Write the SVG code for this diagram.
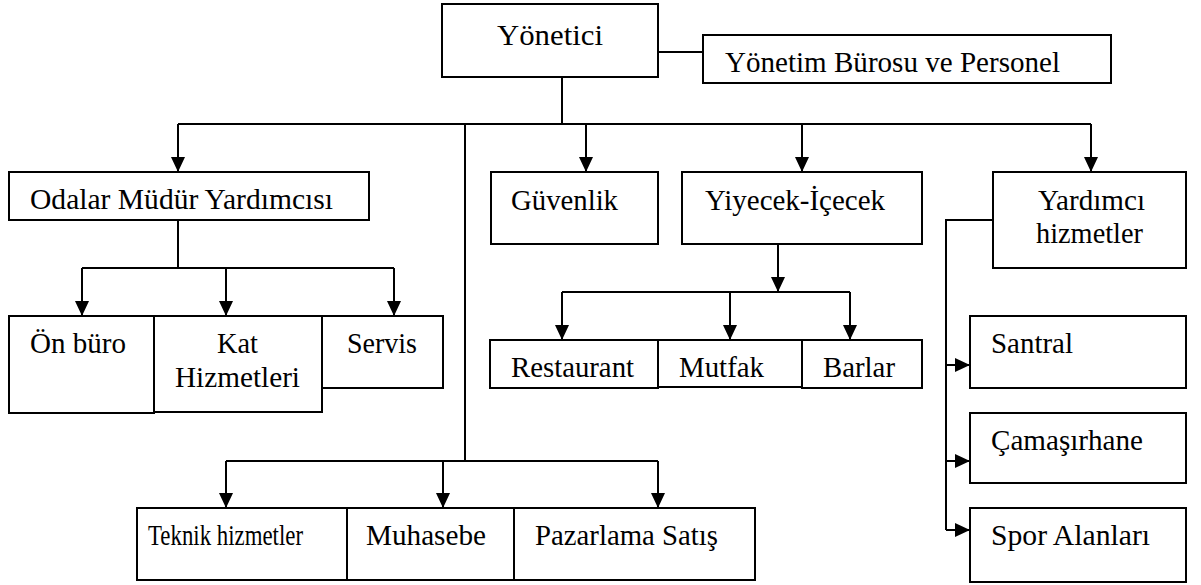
<svg xmlns="http://www.w3.org/2000/svg" width="1201" height="585" viewBox="0 0 1201 585" font-family="Liberation Serif, Times New Roman, serif">
<style>
.box{fill:#fff;stroke:#000;stroke-width:2}
.t{font-size:29px;fill:#000}
.ln{fill:none;stroke:#000;stroke-width:2}
.ar{fill:none;stroke:#000;stroke-width:2;marker-end:url(#ah)}
</style>
<defs>
<marker id="ah" markerUnits="userSpaceOnUse" markerWidth="15" markerHeight="14" refX="15" refY="7" orient="auto">
<path d="M0,0 L15,7 L0,14 z" fill="#000"/>
</marker>
</defs>
<rect width="1201" height="585" fill="#fff"/>
<g id="connectors">
<path class="ln" d="M658,52 H703"/>
<path class="ln" d="M562,77 V124"/>
<path class="ln" d="M178,124 H1091"/>
<path class="ar" d="M178,124 V172"/>
<path class="ar" d="M586,124 V172"/>
<path class="ar" d="M802,124 V172"/>
<path class="ar" d="M1091,124 V172"/>
<path class="ln" d="M465,124 V461"/>
<path class="ln" d="M226,461 H658"/>
<path class="ar" d="M226,461 V508"/>
<path class="ar" d="M443,461 V508"/>
<path class="ar" d="M658,461 V508"/>
<path class="ln" d="M178,220 V268"/>
<path class="ln" d="M82,268 H394"/>
<path class="ar" d="M82,268 V316"/>
<path class="ar" d="M226,268 V316"/>
<path class="ar" d="M394,268 V316"/>
<path class="ar" d="M778,244 V292"/>
<path class="ln" d="M562,292 H850"/>
<path class="ar" d="M562,292 V340"/>
<path class="ar" d="M730,292 V340"/>
<path class="ar" d="M850,292 V340"/>
<path class="ln" d="M993,220 H946 V530"/>
<path class="ar" d="M946,365 H970"/>
<path class="ar" d="M946,461 H970"/>
<path class="ar" d="M946,530 H970"/>
</g>
<g id="yonetici"><rect class="box" x="442" y="4" width="216" height="73"/><text class="t" x="497" y="45" font-family="Liberation Serif" textLength="106" lengthAdjust="spacingAndGlyphs">Yönetici</text></g>
<g id="yonetim-burosu"><rect class="box" x="703" y="35" width="408" height="48"/><text class="t" x="725" y="72" font-family="Liberation Serif" textLength="335" lengthAdjust="spacingAndGlyphs">Yönetim Bürosu ve Personel</text></g>
<g id="odalar"><rect class="box" x="9" y="172" width="360" height="48"/><text class="t" x="30" y="209" font-family="Liberation Serif" textLength="303" lengthAdjust="spacingAndGlyphs">Odalar Müdür Yardımcısı</text></g>
<g id="guvenlik"><rect class="box" x="491" y="172" width="167" height="72"/><text class="t" x="511" y="210" font-family="Liberation Serif" textLength="107" lengthAdjust="spacingAndGlyphs">Güvenlik</text></g>
<g id="yiyecek"><rect class="box" x="682" y="172" width="240" height="72"/><text class="t" x="705" y="210" font-family="Liberation Serif" textLength="180" lengthAdjust="spacingAndGlyphs">Yiyecek-İçecek</text></g>
<g id="yardimci"><rect class="box" x="993" y="172" width="193" height="96"/><text class="t" x="1038" y="210" font-family="Liberation Serif" textLength="107" lengthAdjust="spacingAndGlyphs">Yardımcı</text><text class="t" x="1036" y="243" font-family="Liberation Serif" textLength="107" lengthAdjust="spacingAndGlyphs">hizmetler</text></g>
<g id="on-buro"><rect class="box" x="9" y="316" width="145" height="97"/><text class="t" x="30" y="353" font-family="Liberation Serif" textLength="96" lengthAdjust="spacingAndGlyphs">Ön büro</text></g>
<g id="kat"><rect class="box" x="154" y="316" width="168" height="96"/><text class="t" x="217" y="353" font-family="Liberation Serif" textLength="41" lengthAdjust="spacingAndGlyphs">Kat</text><text class="t" x="175" y="387" font-family="Liberation Serif" textLength="125" lengthAdjust="spacingAndGlyphs">Hizmetleri</text></g>
<g id="servis"><rect class="box" x="322" y="316" width="121" height="72"/><text class="t" x="347" y="353" font-family="Liberation Serif" textLength="70" lengthAdjust="spacingAndGlyphs">Servis</text></g>
<g id="restaurant"><rect class="box" x="490" y="340" width="168" height="48"/><text class="t" x="511" y="377" font-family="Liberation Serif" textLength="123" lengthAdjust="spacingAndGlyphs">Restaurant</text></g>
<g id="mutfak"><rect class="box" x="658" y="340" width="144" height="47"/><text class="t" x="679" y="377" font-family="Liberation Serif" textLength="85" lengthAdjust="spacingAndGlyphs">Mutfak</text></g>
<g id="barlar"><rect class="box" x="802" y="340" width="120" height="48"/><text class="t" x="823" y="377" font-family="Liberation Serif" textLength="72" lengthAdjust="spacingAndGlyphs">Barlar</text></g>
<g id="santral"><rect class="box" x="970" y="316" width="216" height="72"/><text class="t" x="991" y="353" font-family="Liberation Serif" textLength="82" lengthAdjust="spacingAndGlyphs">Santral</text></g>
<g id="camasirhane"><rect class="box" x="970" y="413" width="216" height="70"/><text class="t" x="991" y="450" font-family="Liberation Serif" textLength="152" lengthAdjust="spacingAndGlyphs">Çamaşırhane</text></g>
<g id="spor"><rect class="box" x="970" y="508" width="216" height="74"/><text class="t" x="991" y="545" font-family="Liberation Serif" textLength="159" lengthAdjust="spacingAndGlyphs">Spor Alanları</text></g>
<g id="teknik"><rect class="box" x="137" y="508" width="210" height="72"/><text class="t" x="148" y="545" font-family="Liberation Serif" textLength="155" lengthAdjust="spacingAndGlyphs">Teknik hizmetler</text></g>
<g id="muhasebe"><rect class="box" x="347" y="508" width="167" height="72"/><text class="t" x="366" y="545" font-family="Liberation Serif" textLength="120" lengthAdjust="spacingAndGlyphs">Muhasebe</text></g>
<g id="pazarlama"><rect class="box" x="514" y="508" width="241" height="72"/><text class="t" x="535" y="545" font-family="Liberation Serif" textLength="183" lengthAdjust="spacingAndGlyphs">Pazarlama Satış</text></g>
</svg>
